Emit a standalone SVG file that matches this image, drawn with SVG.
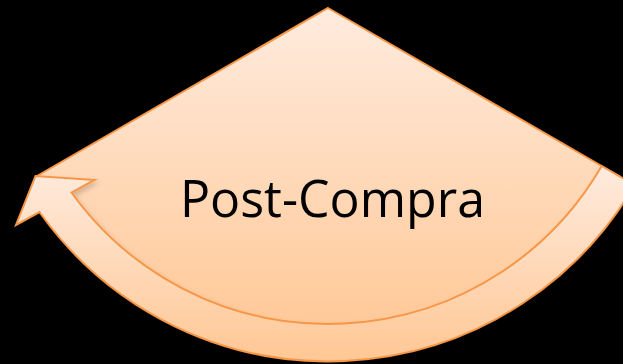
<svg xmlns="http://www.w3.org/2000/svg" width="623" height="364" viewBox="0 0 623 364">
  <defs>
    <linearGradient id="gWedge" gradientUnits="userSpaceOnUse" x1="0" y1="8" x2="0" y2="345">
      <stop offset="0" stop-color="#FFEBDE"/>
      <stop offset="1" stop-color="#FFC794"/>
    </linearGradient>
    <linearGradient id="gBand" gradientUnits="userSpaceOnUse" x1="0" y1="166" x2="0" y2="362">
      <stop offset="0" stop-color="#FFEBDE"/>
      <stop offset="1" stop-color="#FFC794"/>
    </linearGradient>
    <filter id="sh" x="-10%" y="-10%" width="120%" height="130%">
      <feDropShadow dx="2" dy="3" stdDeviation="2.5" flood-color="#000" flood-opacity="0.18"/>
    </filter>
    <style>
      .shape { stroke: #F79646; stroke-width: 2; stroke-linejoin: miter; }
      .label { font-family: "Open Sans", "Noto Sans", "Liberation Sans", sans-serif; font-size: 52px; fill: #000; }
    </style>
  </defs>
  <rect width="623" height="364" fill="#000"/>
  <g id="wedge">
    <path class="shape" fill="url(#gWedge)" d="M328,8 L619.85,176.5 A337,337 0 0 1 36.15,176.5 Z"/>
    <text class="label" x="332.5" y="217" text-anchor="middle" textLength="305" lengthAdjust="spacingAndGlyphs">Post-Compra</text>
  </g>
  <g id="connectors">
    <path id="cycle-arrow" class="shape" fill="url(#gBand)" filter="url(#sh)" d="M601.66,166 A316,316 0 0 1 71.5,192.5 L94.5,180 L35.5,176 L16,225 L39.5,212 A354,354 0 0 0 634.57,185 Z"/>
  </g>
</svg>
